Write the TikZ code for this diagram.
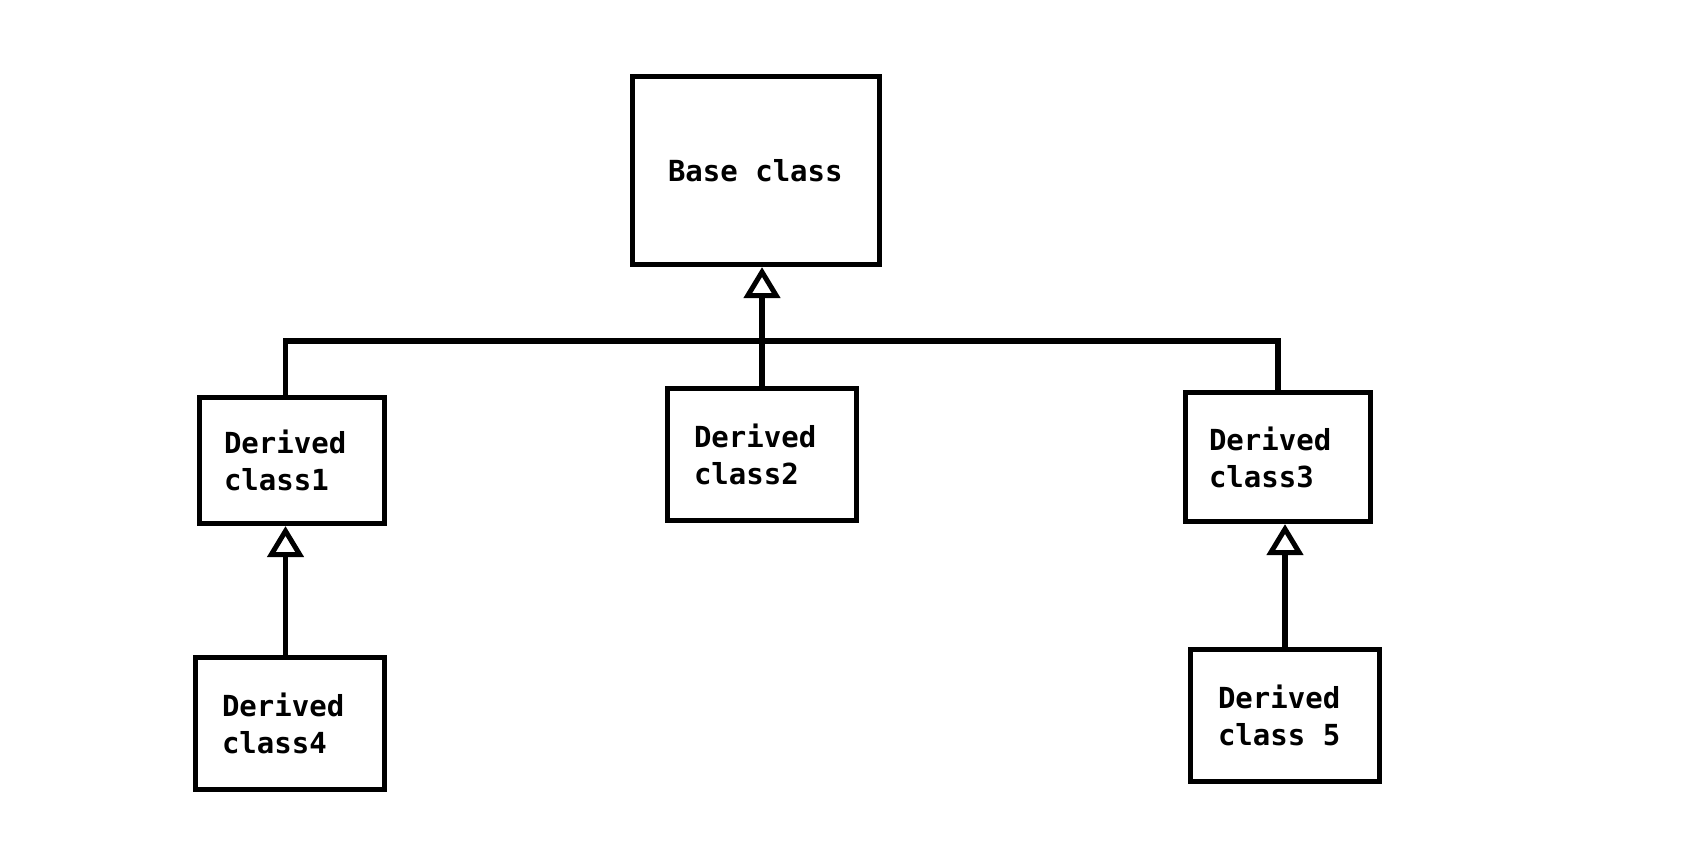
\documentclass[tikz,border=0pt]{standalone}
\usepackage{fontspec}
\newfontfamily\dmono{DejaVu Sans Mono}
\usetikzlibrary{arrows.meta}
\newcommand\clsfont{\dmono\bfseries\fontsize{29pt}{37pt}\selectfont}
\begin{document}
\begin{tikzpicture}[x=1pt,y=1pt,
  cls/.style={draw=black, line width=5.2pt, rectangle, inner sep=0pt,
    align=left, text width=136pt, font=\clsfont,
    execute at begin node={\spaceskip=0pt\xspaceskip=0pt\relax}},
  conn/.style={draw=black, line width=5.2pt},
  inh/.style={conn, -{Triangle[open, length=31pt, width=36pt, line width=5pt]}}]
\useasboundingbox (0,0) rectangle (1686,-844);
\fill[white] (0,0) rectangle (1686,-844);
\node[cls, text width=176pt, minimum width=247pt, minimum height=188pt] (base) at (756,-170.5) {Base class};
\node[cls, minimum width=185pt, minimum height=126pt] (d1) at (292,-460.5) {Derived\\class1};
\node[cls, minimum width=189pt, minimum height=132pt] (d2) at (762,-454.5) {Derived\\class2};
\node[cls, text width=138pt, minimum width=185pt, minimum height=129pt] (d3) at (1278,-457) {Derived\\class3};
\node[cls, minimum width=189pt, minimum height=132pt] (d4) at (290,-723.5) {Derived\\class4};
\node[cls, text width=134pt, minimum width=189pt, minimum height=132pt] (d5) at (1285,-715.5) {Derived\\class 5};
\coordinate (j1) at (285.5,-341);
\coordinate (j3) at (d3.north |- j1);
\draw[conn, line join=miter] (j1 |- d1.north) -- (j1) -- (j3) -- (d3.north);
\draw[inh] (d2.north) -- (d2.north |- base.south);
\draw[inh] (j1 |- d4.north) -- (j1 |- d1.south);
\draw[inh] (d5.north) -- (d5.north |- d3.south);
\end{tikzpicture}
\end{document}
